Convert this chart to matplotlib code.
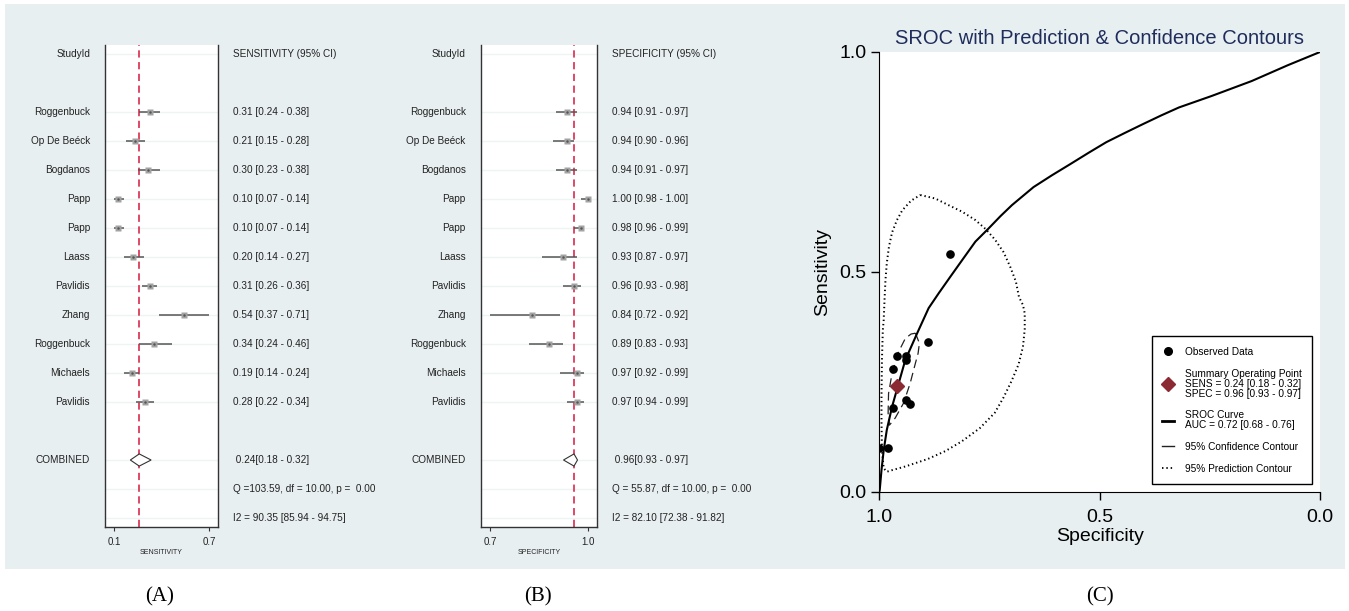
import numpy as np
import matplotlib.pyplot as plt
from matplotlib.lines import Line2D
from matplotlib.patches import Rectangle

plt.rcParams['font.family'] = ['Liberation Sans', 'DejaVu Sans']

# Study data
studies = ['Roggenbuck', 'Op De Beéck', 'Bogdanos', 'Papp', 'Papp', 'Laass',
           'Pavlidis', 'Zhang', 'Roggenbuck', 'Michaels', 'Pavlidis']
sens = [0.31, 0.21, 0.30, 0.10, 0.10, 0.20, 0.31, 0.54, 0.34, 0.19, 0.28]
sens_lo = [0.24, 0.15, 0.23, 0.07, 0.07, 0.14, 0.26, 0.37, 0.24, 0.14, 0.22]
sens_hi = [0.38, 0.28, 0.38, 0.14, 0.14, 0.27, 0.36, 0.71, 0.46, 0.24, 0.34]
spec = [0.94, 0.94, 0.94, 1.00, 0.98, 0.93, 0.96, 0.84, 0.89, 0.97, 0.97]
spec_lo = [0.91, 0.90, 0.91, 0.98, 0.96, 0.87, 0.93, 0.72, 0.83, 0.92, 0.94]
spec_hi = [0.97, 0.96, 0.97, 1.00, 0.99, 0.97, 0.98, 0.92, 0.93, 0.99, 0.99]

# Pooled estimates and heterogeneity
sens_pool = [0.24, 0.18, 0.32]
spec_pool = [0.96, 0.93, 0.97]
sens_stats = ['Q =103.59, df = 10.00, p =  0.00', 'I2 = 90.35 [85.94 - 94.75]']
spec_stats = ['Q = 55.87, df = 10.00, p =  0.00', 'I2 = 82.10 [72.38 - 91.82]']
auc_text = 'AUC = 0.72 [0.68 - 0.76]'

# SROC curve and contours (spec, sens)
sroc_spec = [1.000, 0.999, 0.995, 0.990, 0.983, 0.971, 0.956, 0.941, 0.914, 0.888,
             0.865, 0.839, 0.812, 0.782, 0.752, 0.725, 0.699, 0.650, 0.608, 0.567,
             0.525, 0.485, 0.443, 0.402, 0.360, 0.320, 0.246, 0.155, 0.073, 0.000]
sroc_sens = [0.000, 0.005, 0.050, 0.095, 0.141, 0.194, 0.247, 0.300, 0.361, 0.418,
             0.452, 0.489, 0.527, 0.569, 0.599, 0.627, 0.652, 0.693, 0.720, 0.745,
             0.771, 0.795, 0.816, 0.836, 0.856, 0.874, 0.900, 0.934, 0.970, 1.000]
conf_spec = [0.918, 0.909, 0.912, 0.918, 0.930, 0.945, 0.964, 0.977, 0.980, 0.979,
             0.971, 0.958, 0.941, 0.928, 0.918]
conf_sens = [0.361, 0.338, 0.315, 0.293, 0.247, 0.202, 0.168, 0.152, 0.179, 0.224,
             0.270, 0.315, 0.349, 0.359, 0.361]
pred_spec = [0.907, 0.873, 0.843, 0.812, 0.782, 0.758, 0.737, 0.718, 0.703, 0.690,
             0.683, 0.674, 0.670, 0.670, 0.674, 0.684, 0.700, 0.718, 0.738, 0.772,
             0.813, 0.850, 0.890, 0.941, 0.970, 0.983, 0.990, 0.994, 0.995, 0.995,
             0.994, 0.992, 0.990, 0.988, 0.986, 0.983, 0.978, 0.971, 0.960, 0.948,
             0.928, 0.907]
pred_sens = [0.675, 0.667, 0.652, 0.637, 0.618, 0.597, 0.573, 0.545, 0.512, 0.478,
             0.443, 0.425, 0.406, 0.370, 0.330, 0.290, 0.252, 0.215, 0.180, 0.145,
             0.115, 0.093, 0.075, 0.058, 0.050, 0.046, 0.054, 0.095, 0.160, 0.218,
             0.300, 0.368, 0.391, 0.440, 0.482, 0.520, 0.558, 0.590, 0.618, 0.640,
             0.662, 0.675]

W, H = 1349, 611
BG = '#e8eff1'
RED = '#dc3a5a'


def fig_rect(x0, y0, x1, y1):
    # pixel box (top-left origin) -> figure fraction
    return [x0 / W, 1 - y1 / H, (x1 - x0) / W, (y1 - y0) / H]


def ci_text(v, lo, hi, sep=' '):
    return f'{v:.2f}{sep}[{lo:.2f} - {hi:.2f}]'


# Forest plot for one measure
def forest(ax, est, lo, hi, pool, stats, header, xlab):
    n = len(est)
    rows = np.arange(2, 2 + n)
    r_comb = rows[-1] + 2
    xmin, xmax = min(lo), max(hi)
    pad = 0.095 * (xmax - xmin)
    ax.set_xlim(xmin - pad, xmax + pad)
    ax.set_ylim(r_comb + 2.31, -0.31)

    for r in list(rows) + [0, r_comb, r_comb + 1, r_comb + 2]:
        ax.axhline(r, color='#eef3f4', lw=1.0, zorder=0)

    ax.axvline(pool[0], color=RED, lw=1.3, ls=(0, (4, 2.5)), zorder=1)
    ax.hlines(rows, lo, hi, color='#555555', lw=1.1, zorder=2)
    ax.plot(est, rows, 's', color='#a3a3a3', markersize=5, mec='none', zorder=3)
    ax.plot(est, rows, '.', color='#555555', markersize=1.5, zorder=4)
    p, plo, phi = pool
    ax.fill([plo, p, phi, p, plo], [r_comb, r_comb - 0.21, r_comb, r_comb + 0.21, r_comb],
            facecolor='white', edgecolor='#333333', lw=0.8, zorder=3)

    def left(r, s):
        ax.annotate(s, (0, r), xycoords=('axes fraction', 'data'), xytext=(-10.8, 0),
                    textcoords='offset points', ha='right', va='center', fontsize=7.2,
                    color='#222222')

    def right(r, s, dx=10.8):
        ax.annotate(s, (1, r), xycoords=('axes fraction', 'data'), xytext=(dx, 0),
                    textcoords='offset points', ha='left', va='center', fontsize=7.2,
                    color='#222222')

    left(0, 'StudyId')
    right(0, header)
    for r, name, v, a, b in zip(rows, studies, est, lo, hi):
        left(r, name)
        right(r, ci_text(v, a, b))
    left(r_comb, 'COMBINED')
    right(r_comb, ' ' + ci_text(p, plo, phi, sep=''))
    right(r_comb + 1, stats[0])
    right(r_comb + 2, stats[1])

    ax.set_xticks([xmin, xmax])
    ax.set_xticklabels([f'{xmin:.1f}', f'{xmax:.1f}'], fontsize=7, color='#222222')
    ax.set_yticks([])
    ax.tick_params(axis='x', length=3, width=0.8, pad=4, color='#333333')
    ax.set_xlabel(xlab, fontsize=5, labelpad=2, color='#222222')
    ax.spines['top'].set_visible(False)
    for s in ['left', 'right', 'bottom']:
        ax.spines[s].set_color('#333333')
        ax.spines[s].set_linewidth(1.0)


fig = plt.figure(figsize=(W / 100, H / 100), dpi=100)
fig.patches.append(Rectangle((5 / W, 1 - 569 / H), 1340 / W, 565 / H,
                             transform=fig.transFigure, facecolor=BG, edgecolor='none',
                             zorder=-10))

ax_a = fig.add_axes(fig_rect(105, 45, 218, 527))
forest(ax_a, sens, sens_lo, sens_hi, sens_pool, sens_stats,
       'SENSITIVITY (95% CI)', 'SENSITIVITY')

ax_b = fig.add_axes(fig_rect(480.7, 45, 597.3, 527))
forest(ax_b, spec, spec_lo, spec_hi, spec_pool, spec_stats,
       'SPECIFICITY (95% CI)', 'SPECIFICITY')

# SROC panel
ax_c = fig.add_axes(fig_rect(879.3, 52, 1320, 492))
ax_c.plot(pred_spec, pred_sens, color='black', lw=1.4, ls=(0, (0.7, 1.5)), zorder=2)
ax_c.plot(conf_spec, conf_sens, color='#222222', lw=0.9, ls=(0, (7, 4)), zorder=2)
ax_c.plot(sroc_spec, sroc_sens, color='black', lw=1.5, zorder=3)
ax_c.plot(spec, sens, 'o', color='black', markersize=5.2, zorder=4)
ax_c.plot(spec_pool[0], sens_pool[0], 'D', color='#8b2a33', markersize=7, zorder=5)

ax_c.set_xlim(1.0, 0.0)
ax_c.set_ylim(0.0, 1.0)
ax_c.set_xticks([1.0, 0.5, 0.0])
ax_c.set_yticks([0.0, 0.5, 1.0])
ax_c.set_xticklabels(['1.0', '0.5', '0.0'])
ax_c.set_yticklabels(['0.0', '0.5', '1.0'])
ax_c.tick_params(labelsize=14, length=6, width=1, pad=3)
ax_c.tick_params(axis='x', pad=6)
ax_c.spines['top'].set_visible(False)
ax_c.spines['right'].set_visible(False)
ax_c.set_xlabel('Specificity', fontsize=14, labelpad=2)
ax_c.set_ylabel('Sensitivity', fontsize=14, labelpad=6)
ax_c.set_title('SROC with Prediction & Confidence Contours', fontsize=14.5,
               color='#1f2d5c', pad=6)

handles = [
    Line2D([], [], marker='o', color='black', ls='none', markersize=5.5),
    Line2D([], [], marker='D', color='#8b2a33', ls='none', markersize=7.5),
    Line2D([], [], color='black', lw=2),
    Line2D([], [], color='#222222', lw=1),
    Line2D([], [], color='black', lw=1.3, ls=(0, (0.8, 1.6))),
]
labels = [
    'Observed Data',
    'Summary Operating Point\nSENS = ' + ci_text(*sens_pool) + '\nSPEC = ' + ci_text(*spec_pool),
    'SROC Curve\n' + auc_text,
    '95% Confidence Contour',
    '95% Prediction Contour',
]
leg = ax_c.legend(handles, labels, loc='lower right', bbox_to_anchor=(0.982, 0.0175),
                  borderaxespad=0, prop={'size': 7.3}, frameon=True, fancybox=False,
                  edgecolor='black', framealpha=1, handlelength=1.2, handletextpad=1.0,
                  labelspacing=1.15, borderpad=1.05)
leg.get_frame().set_linewidth(1.0)
for t in leg.get_texts():
    t.set_linespacing(1.0)

# Panel captions
for x, s in [(160, '(A)'), (538, '(B)'), (1100, '(C)')]:
    fig.text(x / W, 1 - 597 / H, s, ha='center', va='center', fontsize=15,
             family='Liberation Serif')

fig.savefig('out.png', dpi=100)
